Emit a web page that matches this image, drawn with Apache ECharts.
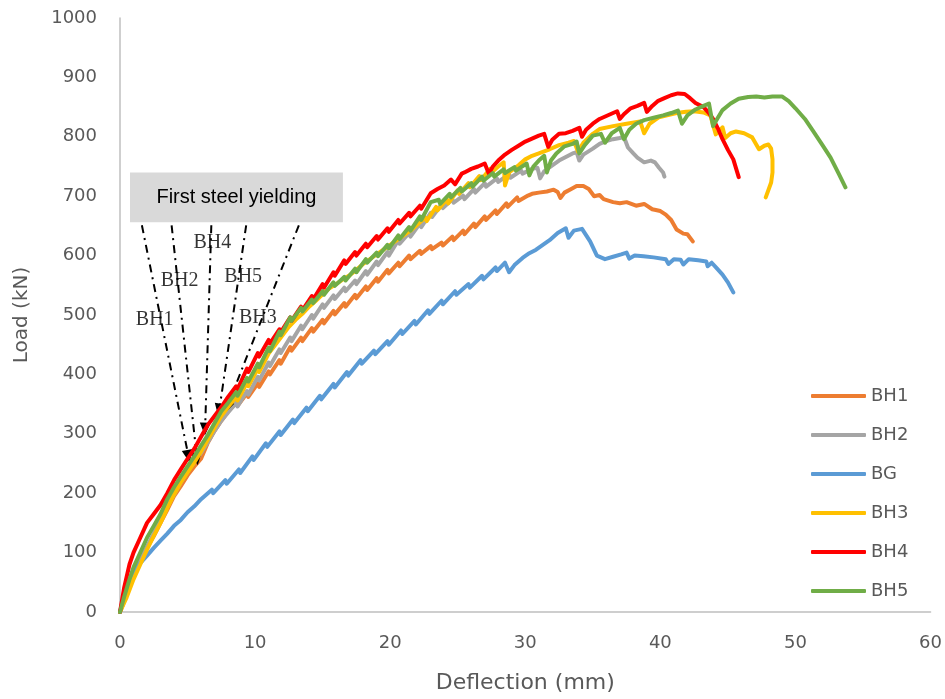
<!DOCTYPE html>
<html>
<head>
<meta charset="utf-8">
<script src="https://cdn.jsdelivr.net/npm/echarts@6/dist/echarts.min.js"></script>
<style>
  html, body { margin: 0; padding: 0; background: #fff; }
  #chart { width: 945px; height: 699px; }
</style>
</head>
<body>
<div id="chart"></div>
<script>
// Load-deflection curves, [deflection (mm), load (kN)]
const BH1 = [[0,0],[0.5,30],[1,60],[1.5,85],[2,108],[2.5,128],[3,150],[3.5,172],[4,195],[4.5,212],[5,230],[5.5,245],[6,258],[6.5,285],[7,305],[7.5,322],[8,338],[8.6,352],[8.7,347],[9.4,368],[9.5,362],[10.2,385],[10.3,379],[11,405],[11.1,400],[11.8,424],[11.9,418],[12.6,446],[12.7,440],[13.4,462],[13.5,456],[14.2,478],[14.3,472],[15,492],[15.1,486],[15.8,507],[15.9,501],[16.6,520],[16.7,514],[17.4,534],[17.5,528],[18.2,548],[18.3,542],[19,562],[19.1,556],[19.8,576],[19.9,570],[20.6,588],[20.7,582],[21.4,600],[21.5,594],[22.2,608],[22.3,603],[23,616],[23.1,611],[23.8,622],[23.9,617],[24.6,632],[24.7,626],[25.4,642],[25.5,636],[26.2,654],[26.3,648],[27,666],[27.1,660],[27.8,676],[27.9,670],[28.6,688],[28.7,682],[29.4,698],[29.5,692],[30.2,701],[30.5,704],[31,706],[31.6,708],[32.1,711],[32.4,707],[32.6,697],[32.9,706],[33.4,712],[33.8,717],[34.3,717],[34.7,712],[35.1,700],[35.5,702],[35.8,695],[36.5,690],[37,688],[37.5,690],[38.2,684],[38.8,687],[39.4,678],[40,675],[40.4,669],[40.8,660],[41.2,644],[41.7,637],[42,636],[42.4,624]];
const BH2 = [[0,0],[0.5,30],[1,60],[1.5,85],[2,110],[2.5,132],[3,155],[3.5,178],[4,198],[4.5,218],[5,236],[5.5,252],[6,268],[6.5,286],[7,305],[7.5,322],[8,336],[8.6,352],[8.7,346],[9.4,372],[9.5,366],[10.2,396],[10.3,390],[11,420],[11.1,414],[11.8,442],[11.9,436],[12.6,462],[12.7,456],[13.4,482],[13.5,476],[14.2,500],[14.3,494],[15,518],[15.1,512],[15.8,533],[15.9,527],[16.6,546],[16.7,540],[17.4,558],[17.5,552],[18.2,574],[18.3,568],[19,590],[19.1,584],[19.8,606],[19.9,600],[20.6,626],[20.7,620],[21.4,638],[21.5,632],[22.2,654],[22.3,648],[23,672],[23.1,665],[23.8,686],[23.9,680],[24.6,695],[24.7,689],[25.4,701],[25.5,695],[26.2,712],[26.3,706],[27,722],[27.1,716],[27.9,730],[28,724],[28.8,737],[28.9,731],[29.7,743],[29.8,738],[30.5,746],[30.9,748],[31.1,730],[31.4,742],[32,752],[32.5,760],[33,766],[33.5,772],[33.8,774],[34,760],[34.3,770],[35,780],[35.5,788],[36,793],[36.5,796],[37,798],[37.3,800],[37.6,782],[38,772],[38.3,765],[38.8,757],[39.3,760],[39.6,757],[39.9,748],[40.2,740],[40.3,733]];
const BG = [[0,0],[0.3,30],[0.7,55],[1,68],[1.5,82],[2,95],[2.5,108],[3,120],[3.5,132],[4,145],[4.5,155],[5,168],[5.5,178],[6,190],[6.8,206],[6.9,200],[7.8,222],[7.9,216],[8.8,240],[8.9,234],[9.8,262],[9.9,256],[10.8,284],[10.9,278],[11.8,304],[11.9,298],[12.8,324],[12.9,318],[13.8,344],[13.9,338],[14.8,364],[14.9,358],[15.8,384],[15.9,378],[16.8,404],[16.9,398],[17.8,424],[17.9,418],[18.8,440],[18.9,434],[19.8,456],[19.9,450],[20.8,474],[20.9,468],[21.8,490],[21.9,484],[22.8,508],[22.9,502],[23.8,524],[23.9,518],[24.8,540],[24.9,534],[25.8,552],[25.9,546],[26.8,566],[26.9,560],[27.8,580],[27.9,574],[28.5,588],[28.8,572],[29.2,584],[29.8,596],[30.3,604],[30.8,610],[31.3,618],[31.8,626],[32.4,638],[33,646],[33.2,630],[33.6,642],[34.2,645],[34.8,624],[35.3,600],[35.9,594],[36.5,598],[37.1,602],[37.5,605],[37.7,595],[38.1,600],[38.75,599],[39.5,597],[40.4,594],[40.6,586],[41,594],[41.5,593],[41.7,585],[42.1,594],[42.8,592],[43.4,590],[43.5,582],[43.8,588],[44.2,578],[44.6,568],[45,555],[45.4,538]];
const BH3 = [[0,0],[0.5,25],[1,55],[1.5,80],[2,105],[2.5,128],[3,150],[3.5,175],[4,198],[4.5,218],[5,235],[5.5,252],[6,270],[6.5,290],[7,310],[7.5,330],[8,345],[8.6,362],[8.7,356],[9.4,386],[9.5,380],[10.2,410],[10.3,404],[11,435],[11.5,450],[12,465],[12.5,480],[13,492],[13.5,502],[14,514],[14.5,524],[15,535],[15.5,545],[16,552],[16.5,560],[17,567],[17.5,576],[18,586],[18.5,594],[19,602],[19.5,610],[20,618],[20.5,626],[21,634],[21.5,642],[22,652],[22.6,664],[22.7,658],[23.4,682],[23.5,676],[24.2,695],[24.3,688],[25,710],[25.1,704],[25.8,722],[25.9,715],[26.6,734],[26.7,727],[27.4,746],[27.5,740],[28,750],[28.4,757],[28.5,718],[28.8,740],[29.5,752],[30,762],[30.5,768],[31,772],[31.8,779],[32.5,786],[33.2,790],[33.6,793],[33.9,775],[34.3,790],[35,805],[35.5,813],[36.5,818],[37.5,822],[38.5,826],[38.8,806],[39.2,822],[39.9,833],[40.5,836],[41.2,840],[41.9,842],[42.5,843],[43.2,841],[43.7,836],[44.1,804],[44.6,816],[44.8,798],[45.2,806],[45.6,809],[46.2,806],[46.8,799],[47.3,779],[47.7,785],[48,787],[48.2,780],[48.3,762],[48.3,740],[48.2,723],[47.8,698]];
const BH4 = [[0,0],[0.3,40],[0.7,80],[1,100],[1.5,125],[2,150],[2.5,165],[3,180],[3.5,200],[4,222],[4.5,240],[5,258],[5.5,275],[6,295],[6.5,315],[7,330],[7.5,345],[8,362],[8.6,380],[8.7,375],[9.4,410],[9.5,404],[10.2,436],[10.3,430],[11,458],[11.1,452],[11.8,476],[11.9,471],[12.6,496],[12.7,490],[13.4,514],[13.5,508],[14.2,532],[14.3,526],[15,552],[15.1,546],[15.8,572],[15.9,566],[16.6,592],[16.7,586],[17.4,606],[17.5,600],[18.2,620],[18.3,614],[19,633],[19.1,627],[19.8,646],[19.9,640],[20.6,660],[20.7,654],[21.4,672],[21.5,666],[22.2,684],[22.3,679],[23,705],[23.5,712],[24,718],[24.5,728],[24.8,720],[25.3,738],[25.5,740],[26,746],[26.5,750],[27,755],[27.3,738],[27.6,750],[28,760],[28.5,770],[29,778],[29.5,785],[30,792],[30.5,797],[31,802],[31.4,805],[31.7,783],[32,795],[32.5,805],[33,806],[33.5,810],[34,815],[34.2,800],[34.5,812],[35,822],[35.5,830],[36,835],[36.5,840],[36.8,843],[37,830],[37.3,838],[37.8,848],[38.3,852],[38.8,857],[39,842],[39.4,852],[39.8,860],[40.3,865],[40.8,870],[41.3,873],[41.8,872],[42.2,865],[42.6,857],[43.2,850],[43.6,840],[43.9,830],[44.3,812],[44.6,796],[45,778],[45.4,762],[45.8,732]];
const BH5 = [[0,0],[0.3,25],[0.7,55],[1,75],[1.5,100],[2,125],[2.5,145],[3,165],[3.5,190],[4,210],[4.5,228],[5,245],[5.5,262],[6,280],[6.5,298],[7,318],[7.5,338],[8,352],[8.6,370],[8.7,364],[9.4,394],[9.5,388],[10.2,418],[10.3,412],[11,445],[11.1,439],[11.8,472],[11.9,466],[12.6,496],[12.7,490],[13.4,512],[13.5,506],[14.2,526],[14.3,520],[15,540],[15.1,534],[15.8,555],[15.9,549],[16.6,564],[16.7,558],[17.4,578],[17.5,572],[18.2,594],[18.3,588],[19,605],[19.1,599],[19.8,618],[19.9,612],[20.6,634],[20.7,628],[21.4,648],[21.5,642],[22.2,666],[22.3,660],[23,690],[23.6,694],[23.7,687],[24.4,704],[24.5,698],[25.2,714],[25.3,708],[26,722],[26.1,716],[26.8,733],[26.9,726],[27.6,739],[27.7,733],[28.4,745],[28.5,739],[29.2,749],[29.3,743],[30.1,755],[30.3,735],[30.6,750],[31,760],[31.4,768],[31.6,740],[31.9,760],[32.3,772],[32.9,784],[33.5,788],[33.8,792],[34,772],[34.4,786],[35,802],[35.6,805],[35.9,790],[36.4,806],[37,815],[37.3,796],[37.7,812],[38.2,822],[38.8,828],[39.5,832],[40.2,836],[40.8,840],[41.3,844],[41.6,822],[42,836],[42.6,846],[43.2,852],[43.6,856],[43.9,818],[44.2,830],[44.6,845],[45.2,856],[45.8,864],[46.5,867],[47.1,868],[47.7,866],[48.3,868],[49,868],[49.5,860],[50,848],[50.7,830],[51.3,810],[52,786],[52.6,765],[53.2,738],[53.7,715]];

const seriesNames = ['BH1', 'BH2', 'BG', 'BH3', 'BH4', 'BH5'];
const seriesData = [BH1, BH2, BG, BH3, BH4, BH5];
const seriesColors = ['#ED7D31', '#A5A5A5', '#5B9BD5', '#FFC000', '#FF0000', '#70AD47'];

// First steel yielding: callout box corners, leader start (below box) and arrow tip per specimen
const yieldBox = [[0.74, 740], [16.5, 656]];
const yieldNames = ['BH1', 'BH2', 'BH4', 'BH5', 'BH3'];
const yieldFrom = [[1.62, 651], [3.82, 651], [6.76, 651], [9.34, 651], [13.24, 651]];
const yieldTo = [[5.07, 262], [5.7, 258], [6.3, 308], [7.35, 340], [7.9, 344]];
const yieldLabelPos = [[2.57, 492], [4.41, 558], [6.84, 622], [9.12, 565], [10.2, 496]];

const chart = echarts.init(document.getElementById('chart'), null, { renderer: 'canvas' });

const axisFont = 'DejaVu Sans, sans-serif';

const lineSeries = seriesNames.map((name, i) => ({
  name: name,
  type: 'line',
  data: seriesData[i],
  showSymbol: false,
  symbol: 'none',
  color: seriesColors[i],
  lineStyle: { width: 4, color: seriesColors[i], cap: 'round', join: 'round' },
  emphasis: { disabled: true },
  z: 2 + i
}));

const annotation = {
  name: 'yield',
  type: 'line',
  data: [],
  silent: true,
  z: 20,
  markArea: {
    silent: true,
    itemStyle: { color: '#D9D9D9' },
    label: {
      show: true,
      position: 'inside',
      formatter: 'First steel yielding',
      color: '#000',
      fontSize: 20,
      fontFamily: 'Liberation Sans, Arial, sans-serif'
    },
    data: [[{ coord: yieldBox[0] }, { coord: yieldBox[1] }]]
  },
  markLine: {
    silent: true,
    symbol: ['none', 'triangle'],
    symbolSize: [11, 13],
    label: { show: false },
    lineStyle: { color: '#000', width: 2, type: [8, 5, 2, 5] },
    data: yieldFrom.map((p, i) => [{ coord: p }, { coord: yieldTo[i] }])
  }
};

const yieldLabels = {
  name: 'yield labels',
  type: 'scatter',
  silent: true,
  z: 21,
  symbolSize: 1,
  itemStyle: { color: 'rgba(0,0,0,0)' },
  data: yieldLabelPos.map((p, i) => ({ value: p, name: yieldNames[i] })),
  label: {
    show: true,
    position: 'inside',
    formatter: (p) => p.name,
    color: '#000',
    fontSize: 20,
    fontFamily: 'Liberation Serif, Times New Roman, serif'
  }
};

chart.setOption({
  animation: false,
  backgroundColor: '#fff',
  grid: { left: 120, right: 9, top: 18, bottom: 87 },
  legend: {
    data: seriesNames,
    orient: 'vertical',
    left: 811,
    top: 386,
    padding: 0,
    icon: 'roundRect',
    itemWidth: 55,
    itemHeight: 4,
    itemGap: 19,
    textStyle: { color: '#595959', fontSize: 18, fontFamily: axisFont, lineHeight: 20 }
  },
  xAxis: {
    type: 'value',
    min: 0, max: 60, interval: 10,
    name: 'Deflection (mm)',
    nameLocation: 'middle',
    nameGap: 60,
    nameTextStyle: { color: '#595959', fontSize: 22, fontFamily: axisFont },
    axisLine: { show: true, onZero: false, lineStyle: { color: '#BFBFBF', width: 1.5 } },
    axisTick: { show: false },
    splitLine: { show: false },
    axisLabel: { color: '#595959', fontSize: 18, fontFamily: axisFont, margin: 22 }
  },
  yAxis: {
    type: 'value',
    min: 0, max: 1000, interval: 100,
    name: 'Load (kN)',
    nameLocation: 'middle',
    nameGap: 88,
    nameRotate: 90,
    nameTextStyle: { color: '#595959', fontSize: 20, fontFamily: axisFont },
    axisLine: { show: true, onZero: false, lineStyle: { color: '#BFBFBF', width: 1.5 } },
    axisTick: { show: false },
    splitLine: { show: false },
    axisLabel: { color: '#595959', fontSize: 18, fontFamily: axisFont, margin: 23, formatter: (v) => String(v) }
  },
  series: [...lineSeries, annotation, yieldLabels]
});
</script>
</body>
</html>
